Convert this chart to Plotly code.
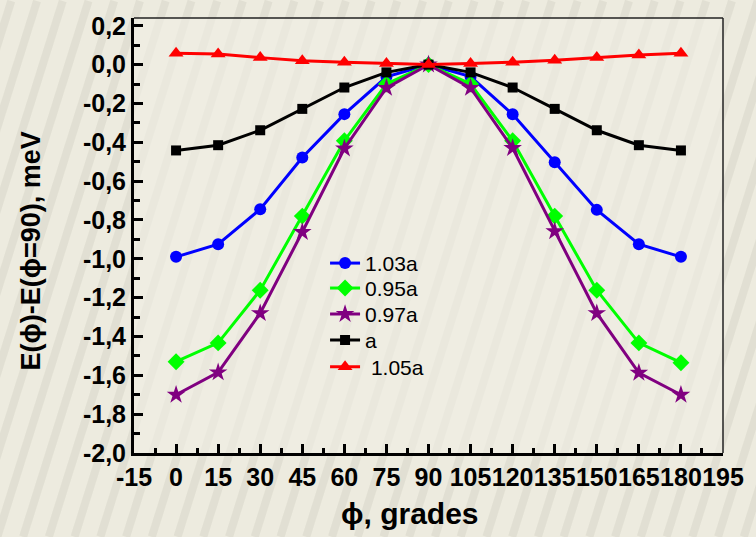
import plotly.graph_objects as go

# Angle phi (degrees) and energy differences E(phi) - E(phi=90), meV
phi = [0, 15, 30, 45, 60, 75, 90, 105, 120, 135, 150, 165, 180]

e_103a = [-0.99, -0.925, -0.745, -0.478, -0.255, -0.063, 0.0, -0.062, -0.256, -0.503, -0.748, -0.925, -0.99]
e_095a = [-1.53, -1.433, -1.162, -0.78, -0.392, -0.10, 0.0, -0.10, -0.392, -0.78, -1.162, -1.433, -1.535]
e_097a = [-1.70, -1.585, -1.28, -0.862, -0.432, -0.12, 0.0, -0.12, -0.43, -0.858, -1.28, -1.587, -1.70]
e_a = [-0.442, -0.415, -0.338, -0.228, -0.118, -0.04, 0.0, -0.04, -0.118, -0.228, -0.338, -0.415, -0.442]
e_105a = [0.058, 0.055, 0.036, 0.02, 0.012, 0.006, 0.0, 0.006, 0.012, 0.023, 0.036, 0.05, 0.058]

series_names = ["1.03a", "0.95a", "0.97a", "a", "\u00a01.05a"]
series_values = [e_103a, e_095a, e_097a, e_a, e_105a]
series_colors = ["#0000ff", "#00ff00", "#800080", "#000000", "#ff0000"]
series_symbols = ["circle", "diamond", "star", "square", "triangle-up"]
series_sizes = [12, 13, 14, 10, 13]

x_ticks = [-15, 0, 15, 30, 45, 60, 75, 90, 105, 120, 135, 150, 165, 180, 195]
x_ticklabels = ["-15", "0", "15", "30", "45", "60", "75", "90", "105", "120", "135", "150", "165", "180", "195"]
y_ticks = [0.2, 0.0, -0.2, -0.4, -0.6, -0.8, -1.0, -1.2, -1.4, -1.6, -1.8, -2.0]
y_ticklabels = ["0,2", "0,0", "-0,2", "-0,4", "-0,6", "-0,8", "-1,0", "-1,2", "-1,4", "-1,6", "-1,8", "-2,0"]

W, H = 756, 537
ML, MR, MT, MB = 134, 27, 17, 84
PW, PH = W - ML - MR, H - MT - MB

BG = "#edebdf"
FONT = "Liberation Sans"


def px_x(px):
    return (px - ML) / PW


def px_y(py):
    return (H - MB - py) / PH


# each series gets its own legend box so the rows can be spaced freely
legend_ids = ["legend", "legend2", "legend3", "legend4", "legend5"]
legend_rows_px = [263, 288, 314, 340, 367]

fig = go.Figure()
for name, vals, col, sym, sz, lid in zip(series_names, series_values, series_colors,
                                         series_symbols, series_sizes, legend_ids):
    fig.add_trace(go.Scatter(
        x=phi, y=vals, name=name, mode="lines+markers", legend=lid,
        line=dict(color=col, width=3),
        marker=dict(symbol=sym, size=sz, color=col, line=dict(width=0)),
    ))

legend_layout = {}
for lid, row in zip(legend_ids, legend_rows_px):
    legend_layout[lid] = dict(
        x=px_x(327), y=px_y(row), xanchor="left", yanchor="middle",
        bgcolor="rgba(0,0,0,0)", borderwidth=0,
        font=dict(family=FONT, size=21, color="black"),
        itemwidth=30,
    )

# textured diagonal background stripes
shapes = []
for i in range(-10, 40):
    x_bottom = -160 + i * 26
    shapes.append(dict(
        type="line", xref="paper", yref="paper", layer="below",
        x0=px_x(x_bottom), y0=px_y(H), x1=px_x(x_bottom + 170), y1=px_y(0),
        line=dict(color="rgba(150,145,130,0.13)", width=8),
    ))
# lighter veil over the plotting area
shapes.append(dict(
    type="rect", xref="paper", yref="paper", layer="below",
    x0=0, y0=0, x1=1, y1=1, line=dict(width=0),
    fillcolor="rgba(240,238,228,0.6)",
))
# thin frame on top and right
shapes.append(dict(
    type="line", xref="paper", yref="paper", layer="above",
    x0=0, y0=1, x1=1, y1=1, line=dict(color="#222222", width=1.5),
))
shapes.append(dict(
    type="line", xref="paper", yref="paper", layer="above",
    x0=1, y0=0, x1=1, y1=1, line=dict(color="#222222", width=1.5),
))

axis_common = dict(
    showgrid=False, zeroline=False, showline=True, linecolor="black", linewidth=3,
    ticks="inside", tickcolor="black", tickwidth=2.5, ticklen=9,
    tickfont=dict(family=FONT, size=25, color="black", weight="bold"),
    tickmode="array",
)

fig.update_layout(
    width=W, height=H,
    margin=dict(l=ML, r=MR, t=MT, b=MB, pad=0),
    paper_bgcolor=BG, plot_bgcolor="rgba(0,0,0,0)",
    shapes=shapes,
    showlegend=True,
    xaxis=dict(
        axis_common, range=[-15, 195], tickvals=x_ticks, ticktext=x_ticklabels, tickangle=0,
        minor=dict(ticks="inside", ticklen=5, tickwidth=2.5, tickcolor="black", dtick=7.5, tick0=-15),
    ),
    yaxis=dict(
        axis_common, range=[-2.0, 0.24], tickvals=y_ticks, ticktext=y_ticklabels,
        minor=dict(ticks="inside", ticklen=6, tickwidth=2.5, tickcolor="black", dtick=0.1, tick0=0),
    ),
    annotations=[
        dict(
            text="E(\u03d5)-E(\u03d5=90), meV", textangle=-90,
            xref="paper", yref="paper", x=px_x(30), y=px_y(251),
            xanchor="center", yanchor="middle", showarrow=False,
            font=dict(family=FONT, size=27, color="black", weight="bold"),
        ),
        dict(
            text="\u03d5, grades",
            xref="paper", yref="paper", x=px_x(413), y=px_y(514),
            xanchor="center", yanchor="middle", showarrow=False,
            font=dict(family=FONT, size=30, color="black", weight="bold"),
        ),
    ],
    **legend_layout,
)

fig.write_html("out.html")
